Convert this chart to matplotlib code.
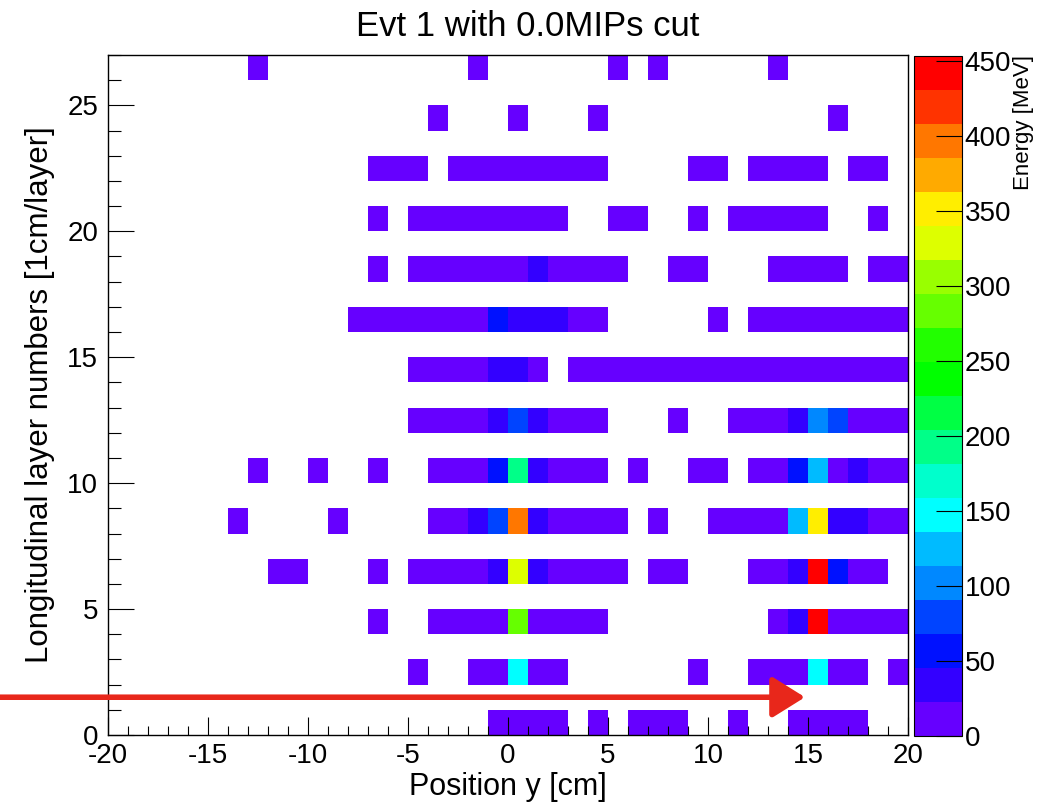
import numpy as np
import matplotlib
matplotlib.use("Agg")
import matplotlib.pyplot as plt
from matplotlib.colors import ListedColormap, BoundaryNorm

plt.rcParams["font.family"] = ["Liberation Sans", "DejaVu Sans"]
plt.rcParams["axes.unicode_minus"] = False

# ROOT-like rainbow palette, 20 contour levels
palette = [
    "#6600FF", "#3300FF", "#0011FF", "#0044FF", "#0088FF",
    "#00BBFF", "#00FFFF", "#00FFCC", "#00FF88", "#00FF44",
    "#00FF00", "#22FF00", "#66FF00", "#99FF00", "#DDFF00",
    "#FFEE00", "#FFAA00", "#FF7700", "#FF3300", "#FF0000",
]
z_max = 453

x_edges = np.arange(-20, 21)
layer_edges = np.arange(0, 28)

# hits per layer: (bin left edge [cm], energy [MeV])
layer_26 = [(-13, 9), (-2, 7), (5, 11), (7, 8), (13, 10)]
layer_24 = [(-4, 8), (0, 10), (4, 9), (16, 12)]
layer_22 = [(-7, 9), (-6, 11), (-5, 8), (-3, 10), (-2, 12), (-1, 14), (0, 15),
            (1, 12), (2, 10), (3, 9), (4, 8), (9, 10), (10, 9), (12, 8),
            (13, 11), (14, 12), (15, 9), (17, 8), (18, 10)]
layer_20 = [(-7, 8), (-5, 9), (-4, 10), (-3, 12), (-2, 14), (-1, 16), (0, 18),
            (1, 15), (2, 11), (5, 9), (6, 8), (9, 10), (11, 9), (12, 11),
            (13, 13), (14, 12), (15, 10), (18, 8)]
layer_18 = [(-7, 9), (-5, 10), (-4, 12), (-3, 14), (-2, 16), (-1, 18), (0, 20),
            (1, 35), (2, 18), (3, 14), (4, 11), (5, 9), (8, 10), (9, 8),
            (13, 9), (14, 12), (15, 14), (16, 10), (18, 9), (19, 8)]
layer_16 = [(-8, 8), (-7, 9), (-6, 10), (-5, 12), (-4, 14), (-3, 16), (-2, 20),
            (-1, 57), (0, 38), (1, 34), (2, 30), (3, 18), (4, 12), (10, 9),
            (12, 10), (13, 11), (14, 13), (15, 15), (16, 14), (17, 12),
            (18, 10), (19, 9)]
layer_14 = [(-5, 10), (-4, 12), (-3, 15), (-2, 19), (-1, 36), (0, 40), (1, 20),
            (3, 12), (4, 11), (5, 10), (6, 9), (7, 10), (8, 11), (9, 12),
            (10, 13), (11, 14), (12, 15), (13, 17), (14, 18), (15, 19),
            (16, 16), (17, 14), (18, 12), (19, 10)]
layer_12 = [(-5, 10), (-4, 13), (-3, 16), (-2, 20), (-1, 38), (0, 80), (1, 36),
            (2, 19), (3, 14), (4, 11), (8, 9), (11, 12), (12, 15), (13, 20),
            (14, 40), (15, 102), (16, 80), (17, 20), (18, 14), (19, 11)]
layer_10 = [(-13, 9), (-10, 8), (-7, 10), (-4, 12), (-3, 15), (-2, 20), (-1, 57),
            (0, 193), (1, 40), (2, 20), (3, 15), (4, 11), (6, 9), (9, 10),
            (10, 12), (12, 14), (13, 20), (14, 57), (15, 125), (16, 21),
            (17, 35), (18, 16), (19, 12)]
layer_8 = [(-14, 8), (-9, 9), (-4, 14), (-3, 18), (-2, 35), (-1, 80), (0, 396),
           (1, 40), (2, 20), (3, 16), (4, 12), (5, 10), (7, 9), (10, 11),
           (11, 13), (12, 16), (13, 21), (14, 125), (15, 351), (16, 38),
           (17, 30), (18, 18), (19, 14)]
layer_6 = [(-12, 9), (-11, 8), (-7, 10), (-5, 12), (-4, 14), (-3, 17), (-2, 21),
           (-1, 36), (0, 328), (1, 38), (2, 20), (3, 15), (4, 12), (5, 10),
           (7, 9), (8, 11), (12, 14), (13, 20), (14, 40), (15, 440), (16, 57),
           (17, 18), (18, 12)]
layer_4 = [(-7, 9), (-4, 12), (-3, 15), (-2, 18), (-1, 21), (0, 283), (1, 20),
           (2, 16), (3, 12), (4, 10), (13, 18), (14, 36), (15, 453), (16, 21),
           (17, 16), (18, 12), (19, 10)]
layer_2 = [(-5, 9), (-2, 14), (-1, 20), (0, 147), (1, 19), (2, 12), (9, 10),
           (12, 12), (13, 16), (14, 21), (15, 147), (16, 20), (17, 13), (19, 9)]
layer_0 = [(-1, 10), (0, 14), (1, 12), (2, 9), (4, 8), (6, 9), (7, 11), (8, 10),
           (11, 8), (14, 10), (15, 13), (16, 11), (17, 9)]

layers = {26: layer_26, 24: layer_24, 22: layer_22, 20: layer_20, 18: layer_18,
          16: layer_16, 14: layer_14, 12: layer_12, 10: layer_10, 8: layer_8,
          6: layer_6, 4: layer_4, 2: layer_2, 0: layer_0}

# hand-drawn red arrow marking the first layer
arrow_start = (-25.4, 1.5)
arrow_end = (14.85, 1.5)

z = np.full((len(layer_edges) - 1, len(x_edges) - 1), np.nan)
for layer, hits in layers.items():
    for x, e in hits:
        z[layer, x - x_edges[0]] = e
z = np.ma.masked_invalid(z)

cmap = ListedColormap(palette)
norm = BoundaryNorm(np.linspace(0, z_max, len(palette) + 1), len(palette))

W, H = 1063, 807
fig = plt.figure(figsize=(W / 100, H / 100), dpi=100)
ax = fig.add_axes([108 / W, 72 / H, 800 / W, 680 / H])
cax = fig.add_axes([914 / W, 71 / H, 48 / W, 680 / H])

mesh = ax.pcolormesh(x_edges, layer_edges, z, cmap=cmap, norm=norm)
ax.set_xlim(-20, 20)
ax.set_ylim(0, 27)

ax.set_xticks(np.arange(-20, 21, 5))
ax.set_xticks(np.arange(-20, 21, 1), minor=True)
ax.set_yticks(np.arange(0, 26, 5))
ax.set_yticks(np.arange(0, 28, 1), minor=True)
ax.tick_params(which="both", direction="in", top=False, right=False,
               labelsize=20, width=0.8, color="black")
ax.tick_params(axis="y", which="major", length=18.7, pad=7)
ax.tick_params(axis="x", which="major", length=13, pad=6)
ax.tick_params(axis="y", which="minor", length=9.4)
ax.tick_params(axis="x", which="minor", length=6.5)
for sp in ax.spines.values():
    sp.set_linewidth(1.0)

ax.set_xlabel("Position y [cm]", fontsize=22, labelpad=2)
ax.set_ylabel("Longitudinal layer numbers [1cm/layer]", fontsize=22.5, labelpad=9)

cb = fig.colorbar(mesh, cax=cax, ticks=np.arange(0, 451, 50))
cb.minorticks_off()
cax.tick_params(direction="in", length=18.7, width=0.8, labelsize=20, pad=2)
cb.outline.set_linewidth(0.8)

fig.text(0.496, 1 - 26 / H, "Evt 1 with 0.0MIPs cut", ha="center",
         va="center", fontsize=25)
fig.text(1023 / W, 1 - 55 / H, "Energy [MeV]", rotation=90, ha="center",
         va="top", fontsize=16)

ax.annotate("", xy=arrow_end, xytext=arrow_start,
            arrowprops=dict(arrowstyle="-|>,head_length=0.8,head_width=0.5",
                            mutation_scale=25, lw=4, color="#E8271B",
                            shrinkA=0, shrinkB=0),
            annotation_clip=False)

fig.savefig("out.png", dpi=100)
